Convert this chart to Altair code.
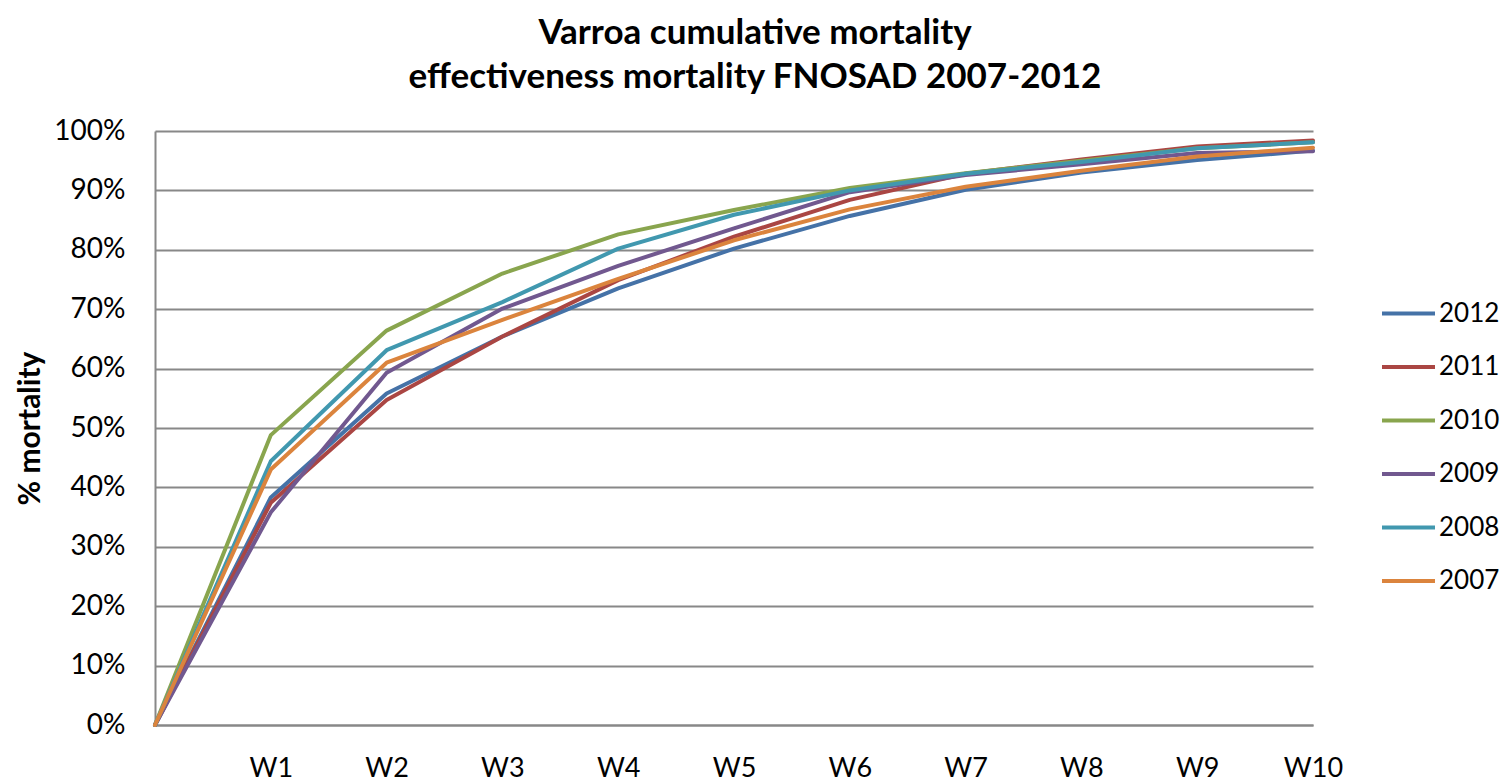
import altair as alt
import pandas as pd

weeks = ["W0", "W1", "W2", "W3", "W4", "W5", "W6", "W7", "W8", "W9", "W10"]
years = ["2012", "2011", "2010", "2009", "2008", "2007"]
colors = ["#4572A7", "#AA4643", "#89A54E", "#71588F", "#4198AF", "#DB843D"]

s2012 = [0, 38.3, 55.8, 65.4, 73.5, 80.2, 85.7, 90.1, 93.0, 95.1, 96.7]
s2011 = [0, 37.4, 54.7, 65.4, 74.9, 82.2, 88.4, 92.8, 95.2, 97.4, 98.4]
s2010 = [0, 48.8, 66.4, 76.0, 82.6, 86.7, 90.4, 92.9, 95.0, 97.1, 98.1]
s2009 = [0, 35.8, 59.3, 70.1, 77.3, 83.6, 89.7, 92.6, 94.4, 96.3, 96.6]
s2008 = [0, 44.4, 63.1, 71.2, 80.2, 85.9, 90.0, 92.8, 94.8, 97.1, 98.1]
s2007 = [0, 43.0, 61.0, 68.2, 75.1, 81.6, 86.8, 90.6, 93.3, 95.7, 97.2]

series = [s2012, s2011, s2010, s2009, s2008, s2007]
rows = []
for yr, vals in zip(years, series):
    for w, v in zip(weeks, vals):
        rows.append({"week": w, "year": yr, "value": v})
df = pd.DataFrame(rows)

FONT = "Lato"
GRID = "#888888"

chart = (
    alt.Chart(df)
    .mark_line(strokeWidth=4, strokeJoin="round", strokeCap="round")
    .encode(
        x=alt.X(
            "week:O",
            sort=weeks,
            scale=alt.Scale(type="point", padding=0),
            axis=alt.Axis(
                title="",
                labelExpr="datum.value == 'W0' ? '' : datum.label",
                labelAngle=0,
                labelFontSize=27,
                labelFont=FONT,
                labelColor="black",
                labelPadding=30,
                ticks=False,
                tickSize=0,
                grid=False,
                domainColor=GRID,
                domainWidth=2,
            ),
        ),
        y=alt.Y(
            "value:Q",
            scale=alt.Scale(domain=[0, 100], nice=False),
            axis=alt.Axis(
                title="% mortality",
                titleFont=FONT,
                titleFontSize=30,
                titleFontWeight="bold",
                titleColor="black",
                titleX=-125,
                titleY=297,
                titleBaseline="middle",
                values=[0, 10, 20, 30, 40, 50, 60, 70, 80, 90, 100],
                labelExpr="datum.value + '%'",
                labelFontSize=28,
                labelFont=FONT,
                labelColor="black",
                labelPadding=30,
                ticks=False,
                tickSize=0,
                grid=True,
                gridColor=GRID,
                gridWidth=2,
                domainColor=GRID,
                domainWidth=2,
            ),
        ),
        color=alt.Color(
            "year:N",
            scale=alt.Scale(domain=years, range=colors),
            legend=alt.Legend(
                title="",
                orient="none",
                legendX=1225,
                legendY=154,
                symbolType="stroke",
                symbolSize=2809,
                symbolStrokeWidth=4,
                labelFontSize=26,
                labelFont=FONT,
                labelColor="black",
                labelOffset=2,
                rowPadding=11.5,
                padding=0,
            ),
        ),
    )
    .properties(
        width=1158,
        height=594,
        padding={"left": 147, "top": 123, "right": 191, "bottom": 56},
        autosize=alt.AutoSizeParams(type="none"),
        background="white",
        title=alt.Title(
            ["Varroa cumulative mortality", "effectiveness mortality FNOSAD 2007-2012"],
            font=FONT,
            fontSize=35,
            fontWeight="bold",
            color="black",
            lineHeight=44,
            anchor="middle",
            frame="group",
            dx=21,
            offset=22,
        ),
    )
    .configure_view(stroke=None)
)

chart.save("out.html", embed_options={"renderer": "svg", "actions": False})
